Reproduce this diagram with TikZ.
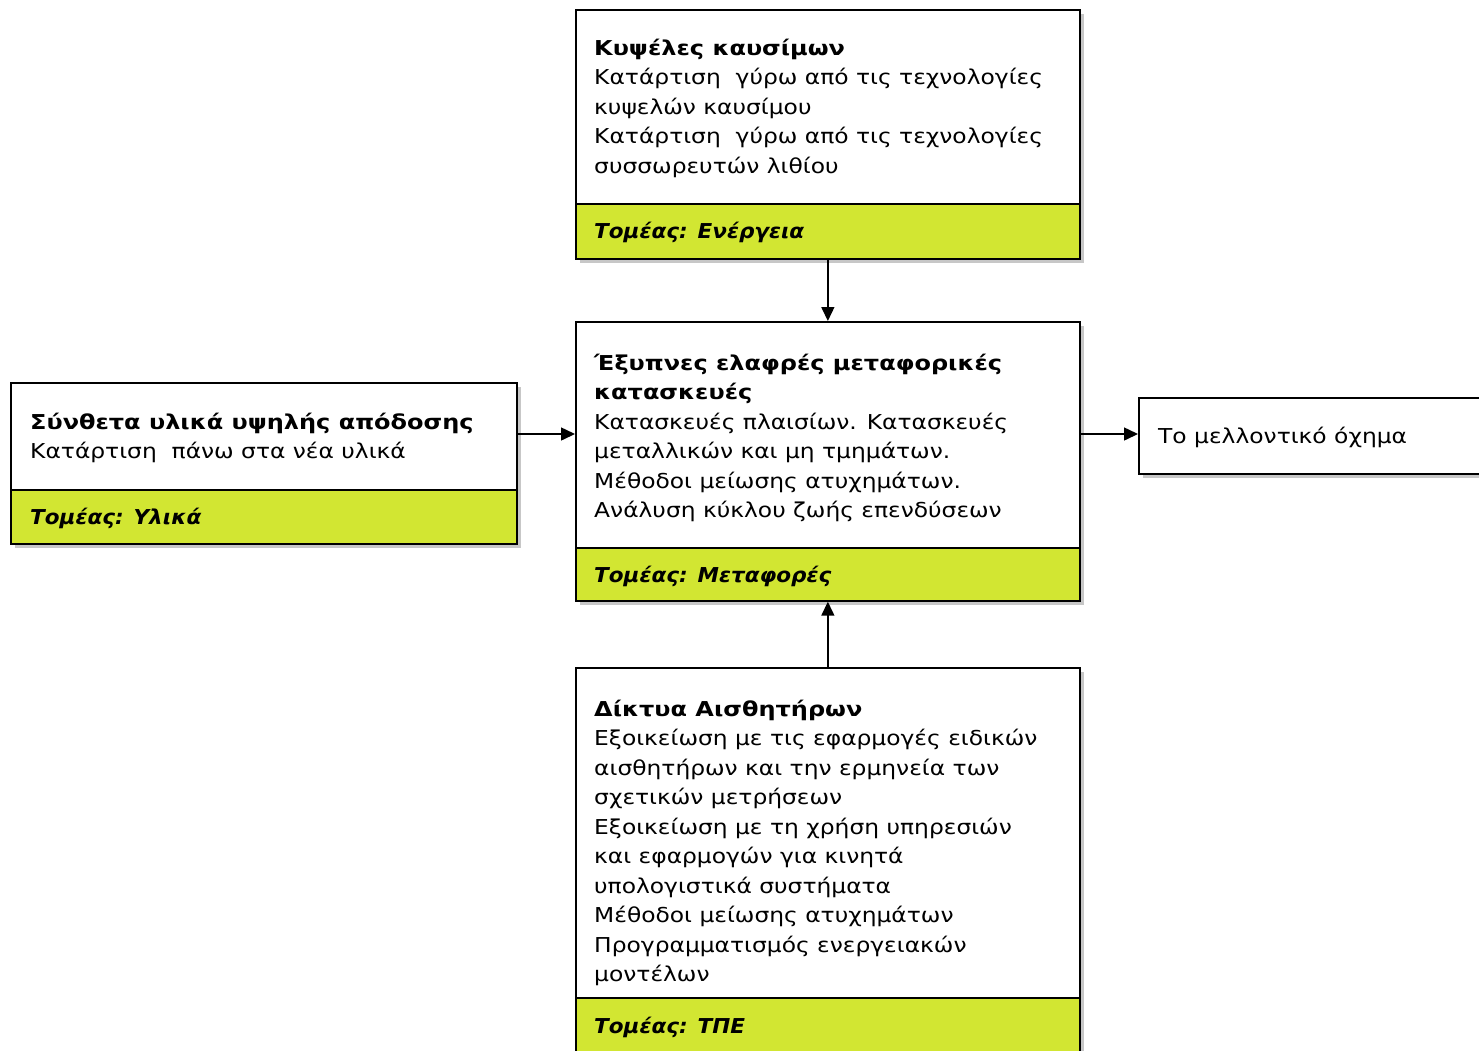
\documentclass[tikz,border=0pt]{standalone}
\usepackage{fontspec}
\setmainfont{DejaVu Sans}[FakeStretch=1.14, BoldFeatures={FakeStretch=1.17}, BoldItalicFeatures={FakeStretch=1.05}]
\usetikzlibrary{arrows.meta,shadows}
\definecolor{bandgreen}{RGB}{210,230,50}
\newcommand\boxlines[1]{\begin{tabular}[t]{@{}l@{}}#1\end{tabular}}
\tikzset{
  panel/.style={draw=black, line width=1.7pt, fill=white, anchor=north west,
    inner sep=0pt, drop shadow={shadow xshift=4.5pt, shadow yshift=-4.5pt, fill=black!22, opacity=1}},
  band/.style={draw=black, line width=1.7pt, fill=bandgreen, anchor=north west, inner sep=0pt},
  txt/.style={anchor=base west, inner sep=0pt, font=\fontsize{20.5}{29.5}\selectfont},
  link/.style={line width=1.5pt, -{Triangle[length=14pt,width=13pt]}}
}
\begin{document}
\begin{tikzpicture}[x=1pt,y=-1pt]
\useasboundingbox (0,0) rectangle (1479,1050);
\clip (0,0) rectangle (1479,1050);

% Energy
\node[panel, minimum width=504pt, minimum height=249pt] (energy) at (575,9) {};
\node[band, minimum width=504pt, minimum height=55pt] (energyband) at (575,203) {};
\node[txt] (energytxt) at (594,55) {\boxlines{\textbf{Κυψέλες καυσίμων}\\
Κατάρτιση\ \ γύρω από τις τεχνολογίες\\
κυψελών καυσίμου\\
Κατάρτιση\ \ γύρω από τις τεχνολογίες\\
συσσωρευτών λιθίου}};
\node[txt] (energylbl) at (594,238) {\textbf{\textit{Τομέας: Ενέργεια}}};

% Transport
\node[panel, minimum width=504pt, minimum height=279pt] (transport) at (575,321) {};
\node[band, minimum width=504pt, minimum height=53pt] (transportband) at (575,547) {};
\node[txt] (transporttxt) at (594,370) {\boxlines{\textbf{Έξυπνες ελαφρές μεταφορικές}\\
\textbf{κατασκευές}\\
Κατασκευές πλαισίων. Κατασκευές\\
μεταλλικών και μη τμημάτων.\\
Μέθοδοι μείωσης ατυχημάτων.\\
Ανάλυση κύκλου ζωής επενδύσεων}};
\node[txt] (transportlbl) at (594,582) {\textbf{\textit{Τομέας: Μεταφορές}}};

% Materials
\node[panel, minimum width=506pt, minimum height=161pt] (materials) at (10,382) {};
\node[band, minimum width=506pt, minimum height=54pt] (materialsband) at (10,489) {};
\node[txt] (materialstxt) at (30,429) {\boxlines{\textbf{Σύνθετα υλικά υψηλής απόδοσης}\\
Κατάρτιση\ \ πάνω στα νέα υλικά}};
\node[txt] (materialslbl) at (30,524) {\textbf{\textit{Τομέας: Υλικά}}};

% Future vehicle
\node[panel, minimum width=360pt, minimum height=76pt] (future) at (1138,397) {};
\node[txt] (futuretxt) at (1158,443) {Το μελλοντικό όχημα};

% Sensor networks
\node[panel, minimum width=504pt, minimum height=400pt] (sensors) at (575,667) {};
\node[band, minimum width=504pt, minimum height=70pt] (sensorsband) at (575,997) {};
\node[txt] (sensorstxt) at (594,716) {\boxlines{\textbf{Δίκτυα Αισθητήρων}\\
Εξοικείωση με τις εφαρμογές ειδικών\\
αισθητήρων και την ερμηνεία των\\
σχετικών μετρήσεων\\
Εξοικείωση με τη χρήση υπηρεσιών\\
και εφαρμογών για κινητά\\
υπολογιστικά συστήματα\\
Μέθοδοι μείωσης ατυχημάτων\\
Προγραμματισμός ενεργειακών\\
μοντέλων}};
\node[txt] (sensorslbl) at (594,1033) {\textbf{\textit{Τομέας: ΤΠΕ}}};

% Connectors
\draw[link] (energy.south) -- (transport.north);
\draw[link] (sensors.north) -- (transport.south);
\draw[link] ([yshift=-52pt]materials.north east) coordinate (m) -- (m -| transport.west);
\draw[link] ([yshift=-113pt]transport.north east) coordinate (t) -- (t -| future.west);
\end{tikzpicture}
\end{document}
